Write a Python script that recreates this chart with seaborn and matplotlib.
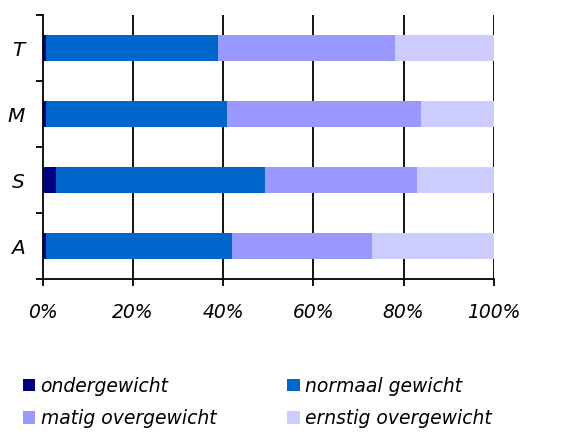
import numpy as np
import pandas as pd
import matplotlib
matplotlib.use("Agg")
import matplotlib.pyplot as plt
from matplotlib.patches import Patch
import seaborn as sns

# Share of each weight class per group (percent), groups listed top to bottom
groups = ["T", "M", "S", "A"]
ondergewicht = [0.7, 0.7, 2.9, 0.7]
normaal_gewicht = [38.2, 40.1, 46.3, 41.3]
matig_overgewicht = [39.1, 43.0, 33.8, 31.1]
ernstig_overgewicht = [22.0, 16.2, 17.0, 26.9]

series_names = ["ondergewicht", "normaal gewicht", "matig overgewicht", "ernstig overgewicht"]
series_values = [ondergewicht, normaal_gewicht, matig_overgewicht, ernstig_overgewicht]
series_colors = ["#000080", "#0066CC", "#9999FF", "#CCCCFF"]
x_ticks = [0, 20, 40, 60, 80, 100]
x_tick_labels = ["0%", "20%", "40%", "60%", "80%", "100%"]

sns.set_theme(style="white")
plt.rcParams["font.family"] = ["DejaVu Sans"]
plt.rcParams["font.style"] = "italic"
plt.rcParams["text.color"] = "black"
plt.rcParams["xtick.color"] = "black"
plt.rcParams["ytick.color"] = "black"

df = pd.DataFrame({"groep": groups})
for name, vals in zip(series_names, series_values):
    df[name] = vals
cum = df[series_names].cumsum(axis=1)
cum["groep"] = groups

fig = plt.figure(figsize=(5.63, 4.32), dpi=100)
ax = fig.add_axes([0.0758, 0.3535, 0.8012, 0.6118])

# Stacked bars: draw cumulative totals from the widest layer down
for name, color in reversed(list(zip(series_names, series_colors))):
    sns.barplot(data=cum, x=name, y="groep", order=groups,
                color=color, width=0.4, saturation=1, ax=ax, orient="h",
                edgecolor="none", linewidth=0)

ax.set_xlim(0, 100)
ax.set_ylim(3.5, -0.5)
ax.set_xlabel("")
ax.set_ylabel("")

# Vertical grid lines at every 20%
for xv in x_ticks[1:]:
    ax.axvline(xv, color="black", lw=1.3, zorder=0.5)

for side in ["top", "right"]:
    ax.spines[side].set_visible(False)
for side in ["left", "bottom"]:
    ax.spines[side].set_color("black")
    ax.spines[side].set_linewidth(1.3)

ax.set_xticks(x_ticks)
ax.set_xticklabels(x_tick_labels, fontsize=13.5, style="italic", color="black")
ax.tick_params(axis="x", direction="out", length=5, width=1.3, color="black",
               bottom=True, pad=12)

ax.set_yticks(range(len(groups)))
ax.set_yticklabels(groups, fontsize=14.5, style="italic", color="black")
ax.set_yticks(np.arange(-0.5, len(groups), 1.0), minor=True)
ax.tick_params(axis="y", which="major", length=0, pad=13)
ax.tick_params(axis="y", which="minor", direction="out", length=5, width=1.3,
               color="black", left=True)

# Legend entries laid out row by row: two per row
handles = [Patch(facecolor=c, edgecolor="none", label=n)
           for n, c in zip(series_names, series_colors)]
row_order = [0, 2, 1, 3]
fig.legend(handles=[handles[i] for i in row_order], loc="upper left",
           bbox_to_anchor=(0.0405, 0.128), ncol=2, frameon=False,
           prop={"style": "italic", "size": 13.5}, labelcolor="black",
           handlelength=0.65, handleheight=0.65, handletextpad=0.3,
           columnspacing=3.8, labelspacing=0.72, borderaxespad=0, borderpad=0)

fig.savefig("out.png", dpi=100)
